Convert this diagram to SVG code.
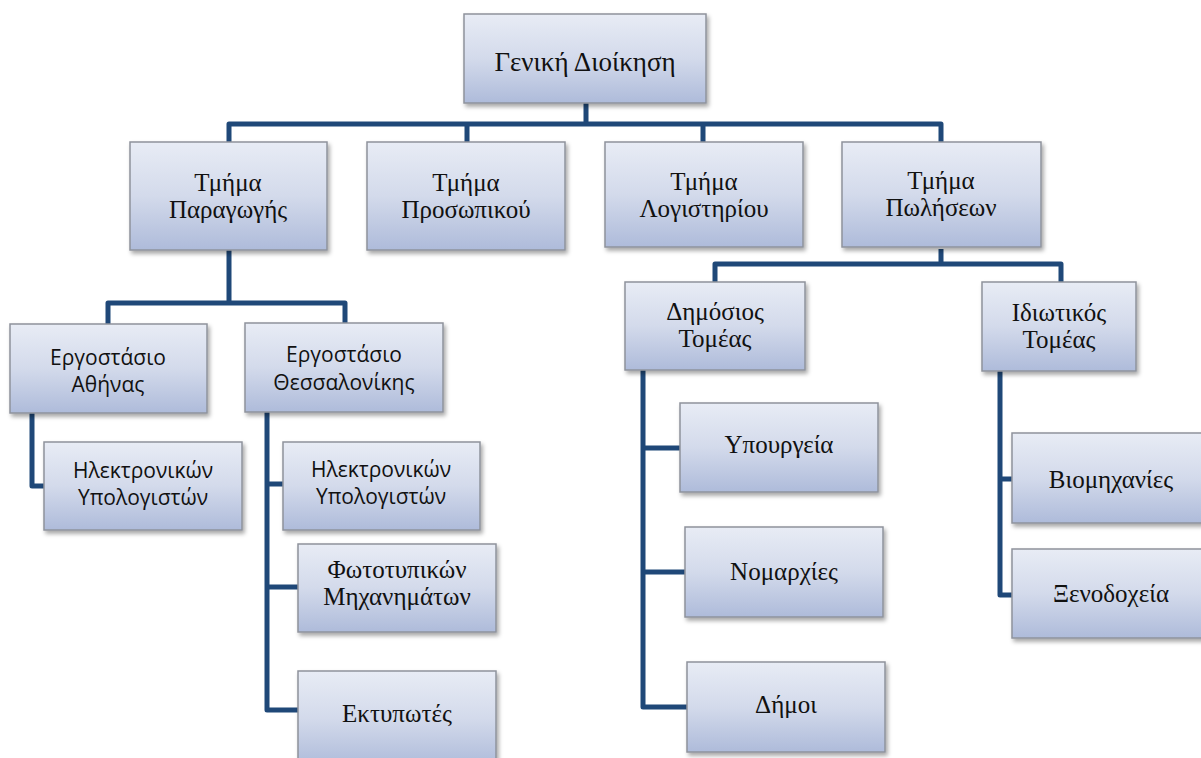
<svg xmlns="http://www.w3.org/2000/svg" width="1201" height="758" viewBox="0 0 1201 758">
<defs>
<linearGradient id="g" x1="0" y1="0" x2="0" y2="1">
<stop offset="0" stop-color="#e8ecf5"/>
<stop offset="0.5" stop-color="#d3daeb"/>
<stop offset="1" stop-color="#aebbda"/>
</linearGradient>
<filter id="sh" x="-10%" y="-10%" width="125%" height="130%">
<feDropShadow dx="2" dy="3" stdDeviation="2" flood-color="#000" flood-opacity="0.35"/>
</filter>
</defs>
<style>
.box{fill:url(#g);stroke:#8e939c;stroke-width:1.5;filter:url(#sh)}
.s{font-family:"Liberation Serif","Times New Roman",serif;font-size:25px;fill:#111;text-anchor:middle}
.a{font-family:"Open Sans","Liberation Sans",sans-serif;font-size:21px;fill:#111;text-anchor:middle}
.c{fill:none;stroke:#1f4878;stroke-width:5;stroke-linejoin:round;stroke-linecap:butt}
</style>
<rect width="1201" height="758" fill="#fff"/>
<g id="connectors">
<path class="c" d="M586,103 V124 M229,142 V124 H941 V142 M467,124 V142 M703,124 V142"/>
<path class="c" d="M229,250 V303 M108,324 V303 H345 V323"/>
<path class="c" d="M32,413 V486 H44"/>
<path class="c" d="M267,412 V710 H298 M267,484 H283 M267,587 H298"/>
<path class="c" d="M941,249 V264 M715,282 V264 H1061 V282"/>
<path class="c" d="M643,370 V707 H687 M643,448 H680 M643,572 H685"/>
<path class="c" d="M1000,371 V595 H1012 M1000,479 H1012"/>
</g>
<g id="n-geniki"><rect class="box" x="464" y="14" width="242" height="89"/><text class="s" x="585" y="71" style="font-size:27px">Γενική Διοίκηση</text></g>
<g id="n-paragogis"><rect class="box" x="130" y="142" width="197" height="108"/><text class="s" x="228" y="191">Τμήμα</text><text class="s" x="228" y="218">Παραγωγής</text></g>
<g id="n-prosopikou"><rect class="box" x="367" y="142" width="198" height="108"/><text class="s" x="466" y="191">Τμήμα</text><text class="s" x="466" y="218">Προσωπικού</text></g>
<g id="n-logistiriou"><rect class="box" x="605" y="142" width="198" height="105"/><text class="s" x="704" y="190">Τμήμα</text><text class="s" x="704" y="217">Λογιστηρίου</text></g>
<g id="n-poliseon"><rect class="box" x="842" y="142" width="199" height="105"/><text class="s" x="941" y="189">Τμήμα</text><text class="s" x="941" y="216">Πωλήσεων</text></g>
<g id="n-athinas"><rect class="box" x="10" y="324" width="197" height="89"/><text class="a" x="108" y="365">Εργοστάσιο</text><text class="a" x="108" y="392">Αθήνας</text></g>
<g id="n-thess"><rect class="box" x="245" y="323" width="198" height="89"/><text class="a" x="344" y="362">Εργοστάσιο</text><text class="a" x="344" y="390">Θεσσαλονίκης</text></g>
<g id="n-ath-hy"><rect class="box" x="44" y="442" width="198" height="88"/><text class="a" x="143" y="478">Ηλεκτρονικών</text><text class="a" x="143" y="505">Υπολογιστών</text></g>
<g id="n-thess-hy"><rect class="box" x="283" y="442" width="197" height="88"/><text class="a" x="381" y="477">Ηλεκτρονικών</text><text class="a" x="381" y="504">Υπολογιστών</text></g>
<g id="n-foto"><rect class="box" x="298" y="544" width="198" height="88"/><text class="s" x="397" y="578">Φωτοτυπικών</text><text class="s" x="397" y="605">Μηχανημάτων</text></g>
<g id="n-ektyp"><rect class="box" x="298" y="671" width="198" height="95"/><text class="s" x="397" y="722">Εκτυπωτές</text></g>
<g id="n-dimosios"><rect class="box" x="625" y="282" width="180" height="88"/><text class="s" x="715" y="320">Δημόσιος</text><text class="s" x="715" y="347">Τομέας</text></g>
<g id="n-idiotikos"><rect class="box" x="982" y="282" width="154" height="89"/><text class="s" x="1059" y="321">Ιδιωτικός</text><text class="s" x="1059" y="348">Τομέας</text></g>
<g id="n-ypourgeia"><rect class="box" x="680" y="403" width="198" height="89"/><text class="s" x="779" y="453">Υπουργεία</text></g>
<g id="n-nomarchies"><rect class="box" x="685" y="527" width="198" height="90"/><text class="s" x="784" y="580">Νομαρχίες</text></g>
<g id="n-dimoi"><rect class="box" x="687" y="662" width="198" height="90"/><text class="s" x="786" y="713">Δήμοι</text></g>
<g id="n-viomichanies"><rect class="box" x="1012" y="433" width="198" height="90"/><text class="s" x="1111" y="488">Βιομηχανίες</text></g>
<g id="n-xenodocheia"><rect class="box" x="1012" y="549" width="198" height="89"/><text class="s" x="1111" y="602">Ξενοδοχεία</text></g>
</svg>
